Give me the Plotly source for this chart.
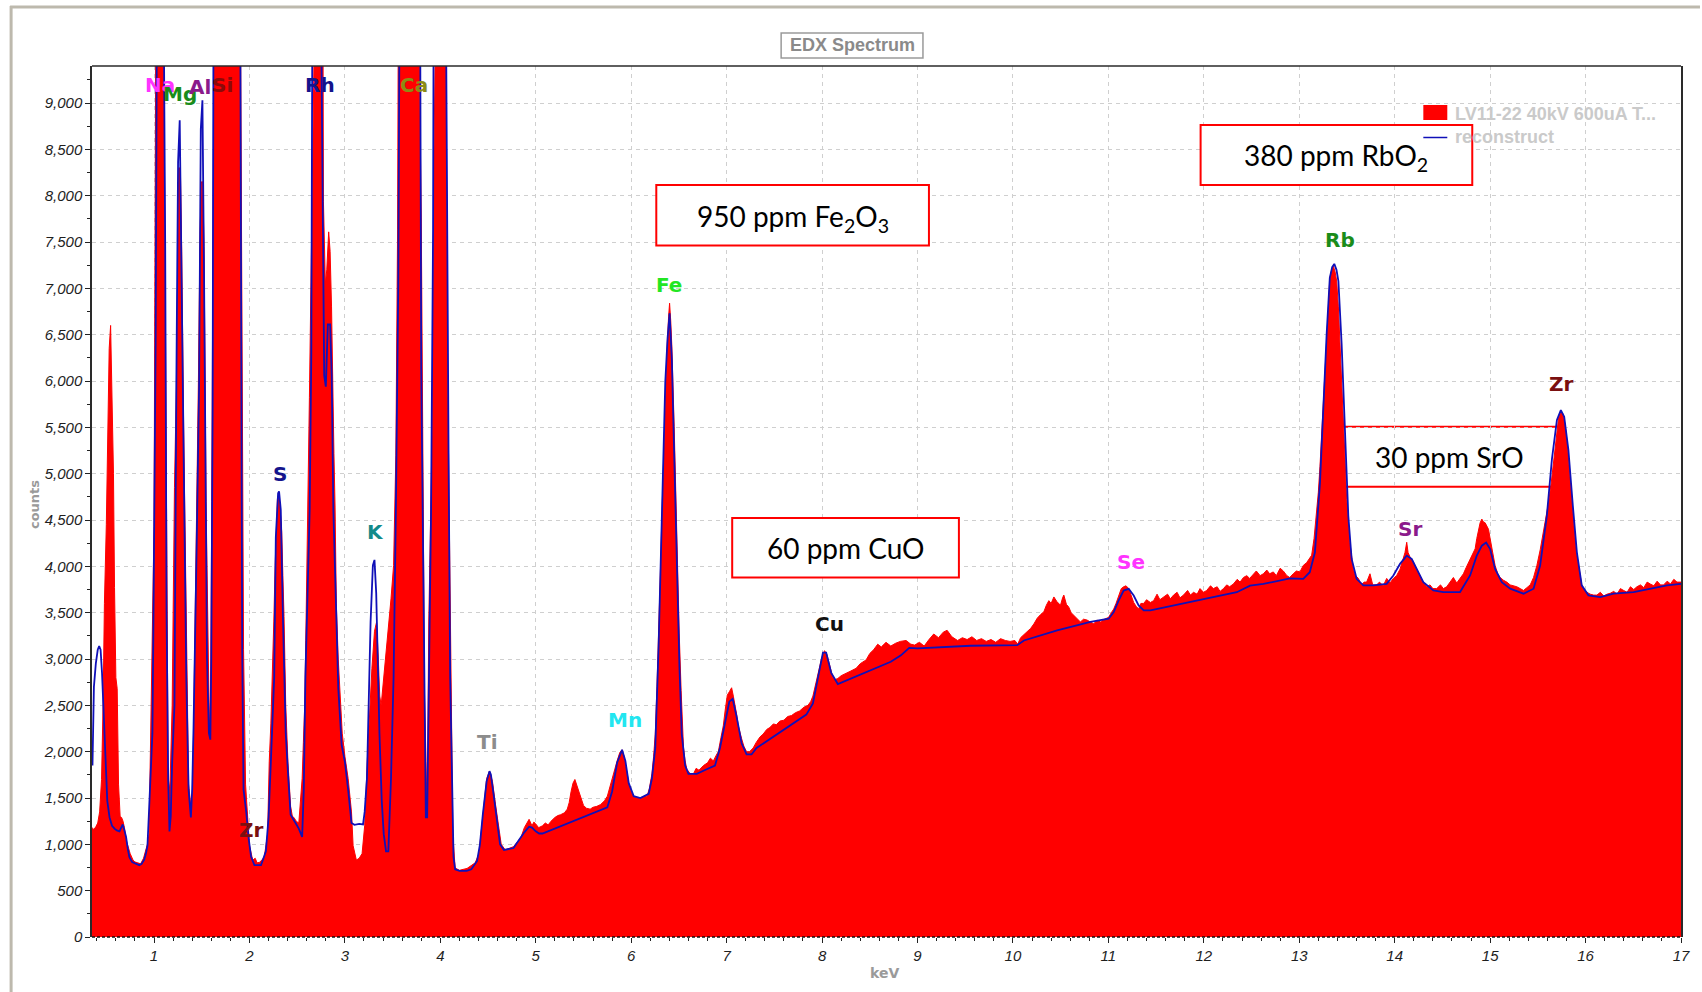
import plotly.graph_objects as go

# ---------------- DATA ----------------
spectrum_kev = [
    0.35, 0.37, 0.39, 0.41, 0.43, 0.45, 0.466, 0.48, 0.50, 0.515,
    0.53, 0.545, 0.56, 0.575, 0.586, 0.60, 0.614, 0.628, 0.645, 0.66,
    0.675, 0.69, 0.71, 0.724, 0.75, 0.78, 0.80, 0.83, 0.86, 0.89,
    0.914, 0.93, 0.948, 0.966, 0.985, 1.0, 1.017, 1.06, 1.103, 1.11,
    1.128, 1.148, 1.166, 1.19, 1.214, 1.234, 1.25, 1.259, 1.276, 1.29,
    1.31, 1.328, 1.345, 1.362, 1.386, 1.40, 1.414, 1.43, 1.448, 1.465,
    1.483, 1.497, 1.51, 1.524, 1.545, 1.56, 1.575, 1.585, 1.595, 1.605,
    1.615, 1.622, 1.76, 1.908, 1.924, 1.938, 1.959, 1.983, 2.0, 2.034,
    2.06, 2.08, 2.103, 2.13, 2.155, 2.19, 2.207, 2.224, 2.24, 2.255,
    2.269, 2.293, 2.31, 2.325, 2.338, 2.35, 2.362, 2.38, 2.403, 2.431,
    2.45, 2.466, 2.49, 2.517, 2.535, 2.552, 2.565, 2.579, 2.59, 2.603,
    2.615, 2.628, 2.648, 2.666, 2.676, 2.72, 2.765, 2.775, 2.795, 2.81,
    2.83, 2.845, 2.86, 2.874, 2.885, 2.897, 2.91, 2.93, 2.948, 2.972,
    3.0, 3.034, 3.069, 3.086, 3.12, 3.15, 3.18, 3.207, 3.234, 3.259,
    3.283, 3.31, 3.332, 3.35, 3.365, 3.38, 3.407, 3.431, 3.455, 3.483,
    3.51, 3.534, 3.552, 3.565, 3.66, 3.78, 3.8, 3.821, 3.834, 3.85,
    3.862, 3.879, 3.896, 3.914, 3.931, 3.945, 4.0, 4.06, 4.076, 4.097,
    4.114, 4.131, 4.155, 4.2, 4.28, 4.33, 4.365, 4.405, 4.43, 4.453,
    4.485, 4.515, 4.546, 4.574, 4.606, 4.638, 4.68, 4.72, 4.767, 4.81,
    4.847, 4.88, 4.91, 4.93, 4.96, 4.98, 5.0, 5.03, 5.07, 5.1,
    5.13, 5.16, 5.2, 5.23, 5.26, 5.3, 5.33, 5.35, 5.37, 5.39,
    5.41, 5.43, 5.45, 5.47, 5.5, 5.53, 5.57, 5.6, 5.64, 5.68,
    5.72, 5.75, 5.78, 5.8, 5.83, 5.852, 5.88, 5.904, 5.925, 5.939,
    5.96, 5.974, 6.0, 6.026, 6.05, 6.078, 6.12, 6.165, 6.19, 6.217,
    6.235, 6.252, 6.27, 6.287, 6.305, 6.322, 6.346, 6.374, 6.392, 6.402,
    6.414, 6.426, 6.45, 6.478, 6.503, 6.523, 6.548, 6.565, 6.583, 6.62,
    6.652, 6.68, 6.71, 6.757, 6.8, 6.83, 6.861, 6.89, 6.913, 6.94,
    6.965, 6.985, 7.007, 7.03, 7.052, 7.07, 7.087, 7.105, 7.122, 7.14,
    7.157, 7.18, 7.209, 7.24, 7.278, 7.31, 7.35, 7.383, 7.42, 7.452,
    7.49, 7.52, 7.557, 7.6, 7.64, 7.68, 7.72, 7.765, 7.81, 7.852,
    7.88, 7.904, 7.925, 7.946, 7.97, 7.991, 8.01, 8.026, 8.05, 8.071,
    8.09, 8.113, 8.14, 8.165, 8.2, 8.252, 8.3, 8.357, 8.4, 8.461,
    8.5, 8.54, 8.583, 8.62, 8.67, 8.72, 8.77, 8.82, 8.88, 8.93,
    8.97, 9.02, 9.07, 9.12, 9.17, 9.22, 9.27, 9.31, 9.36, 9.42,
    9.47, 9.52, 9.57, 9.62, 9.67, 9.72, 9.77, 9.82, 9.87, 9.92,
    9.97, 10.02, 10.05, 10.08, 10.115, 10.15, 10.185, 10.22, 10.254, 10.29,
    10.324, 10.35, 10.376, 10.4, 10.429, 10.46, 10.498, 10.52, 10.533, 10.56,
    10.585, 10.61, 10.638, 10.67, 10.707, 10.74, 10.777, 10.81, 10.847, 10.88,
    10.916, 10.96, 11.003, 11.03, 11.056, 11.08, 11.108, 11.135, 11.16, 11.185,
    11.213, 11.24, 11.265, 11.29, 11.317, 11.34, 11.37, 11.4, 11.44, 11.474,
    11.51, 11.54, 11.578, 11.62, 11.65, 11.683, 11.72, 11.75, 11.787, 11.83,
    11.86, 11.892, 11.93, 11.96, 11.997, 12.03, 12.07, 12.1, 12.14, 12.17,
    12.206, 12.24, 12.27, 12.31, 12.35, 12.38, 12.415, 12.45, 12.48, 12.519,
    12.55, 12.59, 12.624, 12.66, 12.69, 12.728, 12.76, 12.8, 12.833, 12.87,
    12.9, 12.937, 12.97, 13.007, 13.042, 13.077, 13.105, 13.13, 13.155, 13.18,
    13.2, 13.217, 13.235, 13.252, 13.27, 13.287, 13.305, 13.32, 13.34, 13.357,
    13.375, 13.392, 13.41, 13.427, 13.445, 13.46, 13.48, 13.497, 13.515, 13.53,
    13.55, 13.566, 13.59, 13.62, 13.65, 13.68, 13.706, 13.741, 13.77, 13.811,
    13.84, 13.88, 13.916, 13.95, 13.986, 14.02, 14.056, 14.08, 14.108, 14.126,
    14.14, 14.161, 14.19, 14.213, 14.24, 14.266, 14.3, 14.336, 14.37, 14.4,
    14.44, 14.48, 14.51, 14.545, 14.58, 14.615, 14.65, 14.685, 14.72, 14.75,
    14.79, 14.815, 14.843, 14.86, 14.878, 14.895, 14.913, 14.93, 14.948, 14.965,
    14.983, 15.0, 15.017, 15.035, 15.052, 15.08, 15.105, 15.14, 15.175, 15.21,
    15.245, 15.28, 15.315, 15.35, 15.385, 15.42, 15.455, 15.49, 15.525, 15.56,
    15.585, 15.612, 15.64, 15.664, 15.683, 15.7, 15.717, 15.734, 15.762, 15.78,
    15.797, 15.82, 15.84, 15.857, 15.874, 15.89, 15.909, 15.935, 15.96, 15.985,
    16.014, 16.05, 16.085, 16.119, 16.155, 16.19, 16.225, 16.259, 16.295, 16.33,
    16.365, 16.399, 16.435, 16.47, 16.505, 16.538, 16.575, 16.61, 16.645, 16.678,
    16.715, 16.75, 16.785, 16.818, 16.855, 16.89, 16.925, 16.958, 17.0,
]
spectrum_counts = [
    1180, 1160, 1190, 1230, 1350, 1700, 2500, 3600, 4450, 5300,
    6350, 6600, 5700, 5000, 3770, 2800, 2680, 1650, 1300, 1290,
    1250, 1180, 1040, 985, 900, 830, 810, 800, 790, 850,
    925, 1000, 1110, 2250, 3300, 4430, 9450, 30000, 9450, 8360,
    4370, 1710, 1590, 2500, 4850, 5940, 7400, 8300, 8300, 7400,
    5520, 4310, 2740, 1650, 1410, 1500, 2200, 3300, 4430, 6000,
    7640, 8150, 8150, 7450, 4700, 3500, 2600, 2150, 3000, 4700,
    7000, 9450, 40000, 9450, 5220, 3100, 1650, 1170, 985, 830,
    850, 800, 805, 830, 865, 1110, 1890, 2300, 2800, 3400,
    4010, 4730, 4790, 4550, 4370, 3900, 3460, 2500, 1890, 1410,
    1300, 1290, 1250, 1230, 1450, 1710, 2100, 2500, 3200, 4010,
    4900, 5820, 7330, 8570, 9450, 30000, 9450, 7940, 7050, 7200,
    7610, 7400, 6800, 5720, 5220, 4640, 3600, 3000, 2620, 2200,
    1950, 1710, 1350, 985, 830, 850, 900, 1200, 1890, 2500,
    2900, 3300, 3400, 3000, 2600, 2500, 2800, 3050, 3300, 3650,
    4010, 5200, 7640, 9450, 40000, 9450, 7760, 4610, 2620, 1890,
    1290, 3400, 4500, 5460, 8240, 9450, 40000, 9450, 6130, 4010,
    2620, 1110, 745, 720, 740, 770, 800, 900, 1150, 1390,
    1710, 1790, 1680, 1460, 1210, 1000, 940, 960, 975, 1030,
    1080, 1180, 1240, 1270, 1200, 1240, 1220, 1180, 1200, 1230,
    1210, 1250, 1290, 1310, 1320, 1340, 1380, 1450, 1570, 1660,
    1700, 1640, 1580, 1520, 1420, 1390, 1380, 1400, 1410, 1430,
    1470, 1520, 1640, 1710, 1820, 1900, 1990, 2020, 1950, 1880,
    1750, 1660, 1570, 1520, 1500, 1500, 1510, 1520, 1600, 1760,
    1950, 2190, 2700, 3190, 3900, 4560, 5420, 6320, 6700, 6840,
    6650, 6370, 5510, 4180, 3280, 2660, 2040, 1900, 1810, 1760,
    1760, 1820, 1800, 1850, 1880, 1930, 1900, 1960, 2000, 2150,
    2280, 2450, 2610, 2650, 2690, 2600, 2520, 2400, 2280, 2200,
    2140, 2060, 2000, 2000, 2040, 2100, 2160, 2190, 2240, 2260,
    2300, 2290, 2330, 2340, 2380, 2390, 2420, 2440, 2480, 2500,
    2540, 2600, 2700, 2800, 2900, 2990, 3050, 3090, 3050, 2970,
    2880, 2800, 2780, 2790, 2820, 2850, 2870, 2900, 2950, 2990,
    3060, 3100, 3160, 3130, 3180, 3140, 3170, 3190, 3200, 3160,
    3150, 3180, 3140, 3210, 3270, 3230, 3290, 3310, 3240, 3200,
    3230, 3210, 3240, 3200, 3220, 3190, 3210, 3180, 3220, 3200,
    3190, 3200, 3160, 3230, 3260, 3300, 3330, 3380, 3440, 3480,
    3510, 3580, 3630, 3600, 3670, 3620, 3580, 3660, 3690, 3590,
    3560, 3500, 3470, 3430, 3400, 3430, 3420, 3400, 3380, 3420,
    3400, 3430, 3450, 3500, 3540, 3600, 3690, 3760, 3780, 3790,
    3760, 3680, 3610, 3570, 3540, 3600, 3600, 3640, 3610, 3630,
    3700, 3640, 3670, 3700, 3650, 3690, 3720, 3660, 3690, 3740,
    3690, 3720, 3700, 3760, 3720, 3740, 3790, 3760, 3780, 3730,
    3760, 3800, 3780, 3810, 3860, 3830, 3880, 3900, 3870, 3920,
    3950, 3900, 3920, 3960, 3920, 3940, 3900, 3980, 3950, 3900,
    3880, 3920, 3950, 3940, 4010, 4040, 4080, 4120, 4300, 4540,
    4800, 5080, 5400, 5720, 6100, 6440, 6800, 7110, 7200, 7240,
    7180, 7080, 6800, 6440, 6000, 5620, 5150, 4720, 4450, 4260,
    4100, 3970, 3900, 3870, 3800, 3830, 3830, 3920, 3800, 3800,
    3830, 3790, 3870, 3820, 3870, 3900, 3970, 4050, 4150, 4260,
    4150, 4100, 4060, 4010, 3950, 3900, 3830, 3780, 3800, 3760,
    3760, 3800, 3760, 3780, 3830, 3880, 3820, 3870, 3920, 3990,
    4080, 4130, 4190, 4300, 4400, 4470, 4510, 4480, 4470, 4440,
    4400, 4300, 4190, 4090, 4010, 3920, 3880, 3850, 3830, 3800,
    3790, 3780, 3760, 3740, 3770, 3800, 3880, 4010, 4180, 4370,
    4520, 4690, 4900, 5120, 5330, 5510, 5600, 5650, 5650, 5560,
    5440, 5170, 4900, 4680, 4470, 4290, 4120, 3940, 3800, 3750,
    3720, 3700, 3690, 3690, 3720, 3680, 3700, 3710, 3730, 3700,
    3760, 3740, 3720, 3780, 3750, 3780, 3800, 3770, 3830, 3810,
    3790, 3840, 3800, 3800, 3840, 3810, 3860, 3830, 3830,
]

fit_kev = [
    0.355, 0.37, 0.39, 0.41, 0.425, 0.44, 0.455, 0.47, 0.49, 0.51,
    0.534, 0.56, 0.586, 0.61, 0.638, 0.66, 0.672, 0.69, 0.707, 0.725,
    0.741, 0.77, 0.793, 0.82, 0.845, 0.87, 0.897, 0.915, 0.931, 0.945,
    0.959, 0.972, 0.983, 0.992, 1.0, 1.017, 1.028, 1.07, 1.105, 1.117,
    1.131, 1.148, 1.162, 1.175, 1.19, 1.214, 1.234, 1.252, 1.269, 1.283,
    1.31, 1.338, 1.362, 1.386, 1.40, 1.414, 1.448, 1.472, 1.49, 1.507,
    1.524, 1.54, 1.555, 1.575, 1.59, 1.60, 1.614, 1.622, 1.76, 1.905,
    1.915, 1.924, 1.938, 1.966, 1.993, 2.017, 2.052, 2.121, 2.172, 2.2,
    2.224, 2.259, 2.276, 2.3, 2.31, 2.328, 2.352, 2.38, 2.407, 2.431,
    2.483, 2.517, 2.552, 2.569, 2.586, 2.61, 2.631, 2.648, 2.662, 2.672,
    2.72, 2.755, 2.769, 2.783, 2.8, 2.821, 2.845, 2.862, 2.879, 2.903,
    2.931, 2.966, 3.0, 3.034, 3.069, 3.1, 3.15, 3.19, 3.207, 3.231,
    3.248, 3.269, 3.293, 3.31, 3.328, 3.345, 3.362, 3.386, 3.407, 3.431,
    3.455, 3.483, 3.51, 3.534, 3.559, 3.57, 3.66, 3.79, 3.8, 3.821,
    3.834, 3.848, 3.862, 3.883, 3.903, 3.924, 3.935, 4.0, 4.062, 4.069,
    4.086, 4.103, 4.121, 4.138, 4.155, 4.2, 4.276, 4.325, 4.385, 4.415,
    4.445, 4.485, 4.515, 4.53, 4.558, 4.598, 4.626, 4.667, 4.72, 4.767,
    4.826, 4.88, 4.93, 4.96, 5.0, 5.035, 5.07, 5.75, 5.8, 5.852,
    5.904, 5.939, 5.974, 6.026, 6.096, 6.183, 6.217, 6.252, 6.287, 6.322,
    6.357, 6.381, 6.402, 6.426, 6.45, 6.478, 6.506, 6.53, 6.565, 6.6,
    6.687, 6.791, 6.878, 6.93, 6.983, 7.028, 7.063, 7.104, 7.157, 7.209,
    7.261, 7.313, 7.835, 7.904, 7.957, 8.009, 8.043, 8.096, 8.165, 8.5,
    8.72, 8.826, 8.913, 9.0, 9.557, 10.045, 10.115, 10.463, 10.812, 11.003,
    11.056, 11.108, 11.16, 11.213, 11.265, 11.317, 11.37, 11.44, 11.857, 12.345,
    12.485, 12.624, 12.902, 13.042, 13.11, 13.164, 13.217, 13.252, 13.287, 13.32,
    13.345, 13.367, 13.39, 13.41, 13.444, 13.48, 13.514, 13.549, 13.601, 13.671,
    13.776, 13.916, 13.986, 14.056, 14.126, 14.178, 14.231, 14.3, 14.405, 14.51,
    14.685, 14.79, 14.86, 14.913, 14.958, 15.0, 15.052, 15.122, 15.21, 15.35,
    15.455, 15.524, 15.594, 15.647, 15.7, 15.741, 15.776, 15.82, 15.867, 15.909,
    15.96, 16.03, 16.154, 16.294, 16.503, 16.678, 16.853, 17.0,
]
fit_counts = [
    1850, 2700, 2950, 3100, 3140, 3100, 2850, 2500, 1890, 1470,
    1290, 1200, 1170, 1150, 1140, 1200, 1215, 1150, 1080, 950,
    865, 810, 800, 780, 775, 790, 835, 900, 985, 1300,
    1650, 2000, 2200, 3200, 4430, 6430, 9450, 30000, 9450, 7450,
    3530, 1710, 1140, 1300, 1890, 2500, 5970, 8360, 8815, 7450,
    4980, 2800, 1590, 1290, 1600, 2260, 4310, 5940, 8720, 9030,
    7150, 4800, 3000, 2200, 2130, 3000, 5700, 9450, 40000, 9450,
    5000, 3100, 1590, 1350, 1050, 865, 775, 775, 925, 1290,
    1890, 2800, 4310, 4790, 4810, 4610, 3400, 2200, 1710, 1320,
    1230, 1170, 1080, 1590, 2800, 3770, 4610, 6310, 7940, 9450,
    30000, 9450, 7150, 6060, 5940, 6610, 6610, 6060, 4610, 3650,
    2680, 2070, 1890, 1590, 1230, 1210, 1220, 1215, 1350, 1710,
    2500, 3400, 4010, 4070, 3710, 2920, 2200, 1470, 1110, 925,
    925, 1710, 2800, 4610, 7030, 9450, 40000, 9450, 6130, 4010,
    2500, 1290, 1290, 2800, 4610, 7640, 9450, 40000, 9450, 7640,
    5220, 2800, 1890, 865, 730, 714, 714, 730, 821, 1000,
    1320, 1680, 1790, 1750, 1540, 1210, 1000, 940, 950, 960,
    1050, 1130, 1190, 1180, 1140, 1117, 1117, 1400, 1570, 1880,
    2020, 1900, 1660, 1520, 1500, 1545, 1710, 2040, 3140, 4560,
    5990, 6460, 6730, 6230, 5130, 3990, 2900, 2190, 1850, 1760,
    1760, 1810, 1850, 2040, 2330, 2540, 2570, 2380, 2090, 1970,
    1970, 2040, 2400, 2520, 2800, 3070, 3070, 2850, 2730, 2880,
    2970, 3040, 3120, 3114, 3143, 3150, 3200, 3310, 3400, 3435,
    3507, 3632, 3739, 3757, 3685, 3578, 3525, 3525, 3614, 3721,
    3792, 3810, 3871, 3866, 3937, 4151, 4901, 5794, 6508, 7114,
    7230, 7264, 7200, 7079, 6400, 5437, 4544, 4080, 3866, 3795,
    3795, 3812, 3902, 4027, 4116, 4080, 3973, 3830, 3741, 3723,
    3723, 3902, 4116, 4223, 4258, 4187, 3973, 3830, 3759, 3705,
    3759, 4009, 4544, 5151, 5580, 5687, 5615, 5258, 4651, 4151,
    3795, 3687, 3669, 3705, 3723, 3759, 3795, 3812,
]

element_names = ["Na", "Mg", "Al", "Si", "Rh", "Ca", "S", "K", "Zr", "Ti",
                 "Mn", "Fe", "Cu", "Se", "Rb", "Sr", "Zr"]
element_kev = [1.063, 1.27, 1.48, 1.72, 2.734, 3.728, 2.325, 3.323, 2.02, 4.489,
               5.93, 6.40, 8.079, 11.24, 13.43, 14.16, 15.75]
element_counts = [9190, 9094, 9172, 9190, 9190, 9190, 5000, 4371, 1151, 2104,
                  2338, 7033, 3383, 4047, 7518, 4407, 5972]

box_texts = ["950 ppm Fe<sub>2</sub>O<sub>3</sub>", "60 ppm CuO",
             "380 ppm RbO<sub>2</sub>", "30 ppm SrO"]

series_names = ["LV11-22 40kV 600uA T...", "reconstruct"]
x_tick_labels = [str(v) for v in range(1, 18)]

assert len(spectrum_kev) == len(spectrum_counts)
assert len(fit_kev) == len(fit_counts)

# ---------------- STYLE / LAYOUT ----------------
element_colors = {"Na": "#ff33ff", "Mg": "#1a8c1a", "Al": "#8b1a8b", "Si": "#8b0a0a",
                  "Rh": "#14148c", "Ca": "#8c8c14", "S": "#14148c", "K": "#138a8a",
                  "Zr": "#7a1010", "Ti": "#8c8c8c", "Mn": "#22e6f0", "Fe": "#22e622",
                  "Cu": "#111111", "Se": "#ff33ff", "Rb": "#1a8c1a", "Sr": "#8b1a8b"}
series_colors = ["#ff0000", "#1010b8"]

W, H = 1702, 992
ML, MR, MT, MB = 92, 19, 66, 55
PW = W - ML - MR
PH = H - MT - MB


def px_x(px):
    return (px - ML) / PW


def px_y(py):
    return (H - MB - py) / PH


fig = go.Figure()
fig.add_trace(go.Scatter(
    x=spectrum_kev, y=spectrum_counts, mode="lines", name=series_names[0],
    fill="tozeroy", fillcolor=series_colors[0],
    line=dict(color=series_colors[0], width=1), hoverinfo="skip"))
fig.add_trace(go.Scatter(
    x=fit_kev, y=fit_counts, mode="lines", name=series_names[1],
    line=dict(color=series_colors[1], width=1.8), hoverinfo="skip"))

grid_col = "#cfcfcf"
tickfont = dict(family="Liberation Sans", size=15, color="#1e1e1e", style="italic")

fig.update_layout(
    width=W, height=H,
    margin=dict(l=ML, r=MR, t=MT, b=MB, pad=0),
    paper_bgcolor="white", plot_bgcolor="white",
    showlegend=False,
    xaxis=dict(range=[0.35, 17.0], tickmode="array",
               tickvals=list(range(1, 18)), ticktext=x_tick_labels,
               showgrid=True, gridcolor=grid_col, griddash="4px,4px", gridwidth=1,
               zeroline=False, showline=False,
               ticks="outside", ticklen=5, tickwidth=1, tickcolor="#222",
               tickfont=tickfont,
               minor=dict(dtick=0.2, tick0=0, ticks="outside", ticklen=3,
                          tickcolor="#222", showgrid=False)),
    yaxis=dict(range=[0, 9400], tickmode="linear", tick0=0, dtick=500,
               tickformat=",d",
               showgrid=True, gridcolor=grid_col, griddash="4px,4px", gridwidth=1,
               zeroline=False, showline=True, linecolor="#2a2a2a", linewidth=1.5,
               mirror=True,
               ticks="outside", ticklen=5, tickwidth=1, tickcolor="#222",
               tickfont=tickfont,
               minor=dict(dtick=250, tick0=0, ticks="outside", ticklen=3,
                          tickcolor="#222", showgrid=False)),
)

shapes = []
# plot frame top (solid) and bottom axis (dotted)
shapes.append(dict(type="line", xref="paper", yref="paper", x0=0, x1=1, y0=1, y1=1,
                   line=dict(color="#2a2a2a", width=1.5)))
shapes.append(dict(type="line", xref="paper", yref="paper", x0=0, x1=1, y0=0, y1=0,
                   line=dict(color="#111111", width=1.5, dash="3px,2px")))
# outer window frame
shapes.append(dict(type="line", xref="paper", yref="paper",
                   x0=px_x(10), x1=px_x(1702), y0=px_y(7), y1=px_y(7),
                   line=dict(color="#bdb9ad", width=3)))
shapes.append(dict(type="line", xref="paper", yref="paper",
                   x0=px_x(11), x1=px_x(11), y0=px_y(6), y1=px_y(992),
                   line=dict(color="#bdb9ad", width=3)))
# title box
shapes.append(dict(type="rect", xref="paper", yref="paper",
                   x0=px_x(782), x1=px_x(924), y0=px_y(33), y1=px_y(58),
                   line=dict(color="#9a9a9a", width=1.5), fillcolor="white"))

# annotation boxes (pixel rectangles)
box_rects = [(657, 185, 930, 245.5), (733, 518, 960, 577.5),
             (1202, 125, 1474, 185), (1335, 426.7, 1562, 486.7)]
box_layers = ["above", "above", "above", "between"]
box_text_pos = [(793.5, 218), (846.5, 548), (1338, 157), (1451, 457)]
for (x0, y0, x1, y1), lay in zip(box_rects, box_layers):
    shapes.append(dict(type="rect", xref="paper", yref="paper",
                       x0=px_x(x0), x1=px_x(x1), y0=px_y(y0), y1=px_y(y1),
                       line=dict(color="#ff0000", width=2), fillcolor="white",
                       layer=lay))

# legend (drawn on top of the RbO2 box, as in the reference)
shapes.append(dict(type="rect", xref="paper", yref="paper",
                   x0=px_x(1425), x1=px_x(1449), y0=px_y(105), y1=px_y(120),
                   line=dict(width=0), fillcolor=series_colors[0]))
shapes.append(dict(type="line", xref="paper", yref="paper",
                   x0=px_x(1425), x1=px_x(1449), y0=px_y(137.5), y1=px_y(137.5),
                   line=dict(color=series_colors[1], width=1.5)))
fig.update_layout(shapes=shapes)

annotations = []
for name, xk, yc in zip(element_names, element_kev, element_counts):
    annotations.append(dict(x=xk, y=yc, xref="x", yref="y", text=f"<b>{name}</b>",
                            showarrow=False, xanchor="center", yanchor="middle",
                            font=dict(family="DejaVu Sans", size=20,
                                      color=element_colors[name])))
for txt, (tx, ty) in zip(box_texts, box_text_pos):
    annotations.append(dict(x=px_x(tx), y=px_y(ty), xref="paper", yref="paper",
                            text=txt, showarrow=False, xanchor="center", yanchor="middle",
                            font=dict(family="Lato", size=28, color="#000000")))
for name, ly in zip(series_names, [114, 137]):
    annotations.append(dict(x=px_x(1455), y=px_y(ly), xref="paper", yref="paper",
                            text=f"<b>{name}</b>", showarrow=False,
                            xanchor="left", yanchor="middle",
                            font=dict(family="Liberation Sans", size=18, color="#cacaca")))
annotations.append(dict(x=px_x(853), y=px_y(45.5), xref="paper", yref="paper",
                        text="<b>EDX Spectrum</b>", showarrow=False,
                        xanchor="center", yanchor="middle",
                        font=dict(family="Liberation Sans", size=18, color="#8a8a8a")))
annotations.append(dict(x=px_x(34), y=px_y(505), xref="paper", yref="paper",
                        text="<b>counts</b>", showarrow=False, textangle=-90,
                        xanchor="center", yanchor="middle",
                        font=dict(family="DejaVu Sans", size=13, color="#9a9a9a")))
annotations.append(dict(x=px_x(885), y=px_y(973), xref="paper", yref="paper",
                        text="<b>keV</b>", showarrow=False,
                        xanchor="center", yanchor="middle",
                        font=dict(family="DejaVu Sans", size=14, color="#9a9a9a")))
fig.update_layout(annotations=annotations)

fig.write_html("out.html", config={"displayModeBar": False},
               post_script="document.body.style.margin='0';document.body.style.overflow='hidden';")
